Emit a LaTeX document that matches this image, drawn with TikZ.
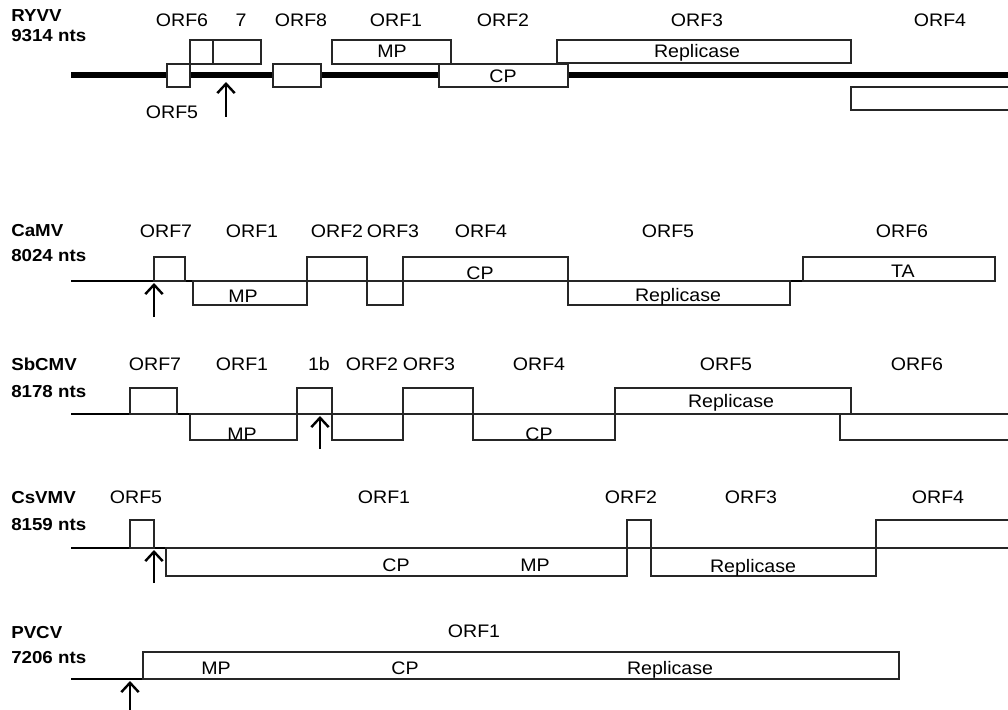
\documentclass[tikz,border=0pt]{standalone}
\usepackage{fontspec}
\setmainfont{Liberation Sans}[FakeStretch=1.08]
\usepackage{tikz}
\usetikzlibrary{arrows.meta}

\begin{document}
\begin{tikzpicture}[
    x=0.75pt, y=-0.75pt,
    orfbox/.style={draw=black!85, line width=0.9pt},
    genome/.style={line width=1.5pt},
    biggenome/.style={line width=4pt},
    orflab/.style={anchor=base, inner sep=0pt, font=\fontsize{13.6}{16}\selectfont},
    virus/.style={anchor=base west, inner sep=0pt, font=\fontsize{13}{16}\selectfont\bfseries},
    nick/.style={-{Straight Barb[length=7pt,width=13pt,line width=1.8pt]}, line width=1.1pt},
]
\clip (0,0) rectangle (1008,710);

% RYVV
\draw[biggenome] (71,75) -- (1015,75);
\draw[orfbox, fill=white] (167,64) rectangle (190,87);
\draw[orfbox, fill=white] (190,40) rectangle (213,64);
\draw[orfbox, fill=white] (213,40) rectangle (261,64);
\draw[orfbox, fill=white] (273,64) rectangle (321,87);
\draw[orfbox, fill=white] (332,40) rectangle (451,64);
\draw[orfbox, fill=white] (439,64) rectangle (568,87);
\draw[orfbox, fill=white] (557,40) rectangle (851,63);
\draw[orfbox, fill=white] (851,87) rectangle (1015,110);
\node[virus] (ryname) at (11,22) {RYVV};
\node[virus] (rylen) at (11,42) {9314 nts};
\node[orflab] (ry6) at (182,27) {ORF6};
\node[orflab] (ry7) at (241,27) {7};
\node[orflab] (ry8) at (301,27) {ORF8};
\node[orflab] (ry1) at (396,27) {ORF1};
\node[orflab] (ry2) at (503,27) {ORF2};
\node[orflab] (ry3) at (697,27) {ORF3};
\node[orflab] (ry4) at (940,27) {ORF4};
\node[orflab] (ry5) at (172,118) {ORF5};
\node[orflab] (rymp) at (392,58) {MP};
\node[orflab] (rycp) at (503,83) {CP};
\node[orflab] (ryrep) at (697,58) {Replicase};
\coordinate (rytail) at (226,117);
\coordinate (rytip) at (226,82);
\draw[nick] (rytail) -- (rytip);

% CaMV
\draw[genome] (71,281) -- (995,281);
\draw[orfbox] (154,257) rectangle (185,281);
\draw[orfbox] (193,281) rectangle (307,305);
\draw[orfbox] (307,257) rectangle (367,281);
\draw[orfbox] (367,281) rectangle (403,305);
\draw[orfbox] (403,257) rectangle (568,281);
\draw[orfbox] (568,281) rectangle (790,305);
\draw[orfbox] (803,257) rectangle (995,281);
\node[virus] (caname) at (11,236) {CaMV};
\node[virus] (calen) at (11,262) {8024 nts};
\node[orflab] (ca7) at (166,238) {ORF7};
\node[orflab] (ca1) at (252,238) {ORF1};
\node[orflab] (ca2) at (337,238) {ORF2};
\node[orflab] (ca3) at (393,238) {ORF3};
\node[orflab] (ca4) at (481,238) {ORF4};
\node[orflab] (ca5) at (668,238) {ORF5};
\node[orflab] (ca6) at (902,238) {ORF6};
\node[orflab] (camp) at (243,302) {MP};
\node[orflab] (cacp) at (480,279) {CP};
\node[orflab] (carep) at (678,301) {Replicase};
\node[orflab] (cata) at (903,277) {TA};
\coordinate (catail) at (154,317);
\coordinate (catip) at (154,283);
\draw[nick] (catail) -- (catip);

% SbCMV
\draw[genome] (71,414) -- (1015,414);
\draw[orfbox] (130,388) rectangle (177,414);
\draw[orfbox] (190,414) rectangle (297,440);
\draw[orfbox] (297,388) rectangle (332,414);
\draw[orfbox] (332,414) rectangle (403,440);
\draw[orfbox] (403,388) rectangle (473,414);
\draw[orfbox] (473,414) rectangle (615,440);
\draw[orfbox] (615,388) rectangle (851,414);
\draw[orfbox] (840,414) rectangle (1015,440);
\node[virus] (sbname) at (11,370) {SbCMV};
\node[virus] (sblen) at (11,397) {8178 nts};
\node[orflab] (sb7) at (155,370) {ORF7};
\node[orflab] (sb1) at (242,370) {ORF1};
\node[orflab] (sb1b) at (319,370) {1b};
\node[orflab] (sb2) at (372,370) {ORF2};
\node[orflab] (sb3) at (429,370) {ORF3};
\node[orflab] (sb4) at (539,370) {ORF4};
\node[orflab] (sb5) at (726,370) {ORF5};
\node[orflab] (sb6) at (917,370) {ORF6};
\node[orflab] (sbmp) at (242,440) {MP};
\node[orflab] (sbcp) at (539,440) {CP};
\node[orflab] (sbrep) at (731,407) {Replicase};
\coordinate (sbtail) at (320,449);
\coordinate (sbtip) at (320,416);
\draw[nick] (sbtail) -- (sbtip);

% CsVMV
\draw[genome] (71,548) -- (1015,548);
\draw[orfbox] (130,520) rectangle (154,548);
\draw[orfbox] (166,548) rectangle (627,576);
\draw[orfbox] (627,520) rectangle (651,548);
\draw[orfbox] (651,548) rectangle (876,576);
\draw[orfbox] (876,520) rectangle (1015,548);
\node[virus] (csname) at (11,503) {CsVMV};
\node[virus] (cslen) at (11,530) {8159 nts};
\node[orflab] (cs5) at (136,503) {ORF5};
\node[orflab] (cs1) at (384,503) {ORF1};
\node[orflab] (cs2) at (631,503) {ORF2};
\node[orflab] (cs3) at (751,503) {ORF3};
\node[orflab] (cs4) at (938,503) {ORF4};
\node[orflab] (cscp) at (396,571) {CP};
\node[orflab] (csmp) at (535,571) {MP};
\node[orflab] (csrep) at (753,572) {Replicase};
\coordinate (cstail) at (154,583);
\coordinate (cstip) at (154,550);
\draw[nick] (cstail) -- (cstip);

% PVCV
\draw[genome] (71,679) -- (899,679);
\draw[orfbox] (143,652) rectangle (899,679);
\node[virus] (pvname) at (11,638) {PVCV};
\node[virus] (pvlen) at (11,663) {7206 nts};
\node[orflab] (pv1) at (474,637) {ORF1};
\node[orflab] (pvmp) at (216,674) {MP};
\node[orflab] (pvcp) at (405,674) {CP};
\node[orflab] (pvrep) at (670,674) {Replicase};
\coordinate (pvtail) at (130,712);
\coordinate (pvtip) at (130,681);
\draw[nick] (pvtail) -- (pvtip);
\end{tikzpicture}
\end{document}
